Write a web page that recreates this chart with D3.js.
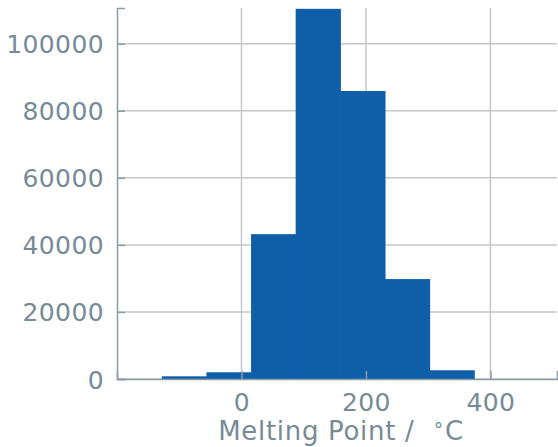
<!DOCTYPE html>
<html>
<head>
<meta charset="utf-8">
<script src="https://cdn.jsdelivr.net/npm/d3@7"></script>
<style>
  body { margin: 0; background: #fff; }
  svg { font-family: "DejaVu Sans", sans-serif; }
</style>
</head>
<body>
<div id="chart"></div>
<script>
// histogram bins (left edges) and counts
var binEdges = [-128, -56.3, 15.4, 87.1, 158.8, 230.5, 302.2, 373.9];
var counts   = [800, 2000, 43200, 110400, 85900, 29800, 2600];
var xTicks = [0, 200, 400];
var yTicks = [0, 20000, 40000, 60000, 80000, 100000];

var textColor = "#778b97",
    spineColor = "#8a9ca7",
    gridColor = "#c6c6c6",
    barColor = "#0e5ea8";

var margin = {top: 8, right: 1, bottom: 68, left: 117},
    width = 558 - margin.left - margin.right,
    height = 447 - margin.top - margin.bottom;

var svg = d3.select("#chart")
  .append("svg")
    .attr("width", 558)
    .attr("height", 447)
  .append("g")
    .attr("transform", "translate(" + margin.left + "," + margin.top + ")");

var x = d3.scaleLinear()
  .domain([-200, 507])
  .range([0, width]);

var y = d3.scaleLinear()
  .domain([0, 110650])
  .range([height, 0]);

// grid
svg.append("g").selectAll("line.vg")
  .data(xTicks).enter().append("line")
    .attr("x1", function(d){ return x(d) }).attr("x2", function(d){ return x(d) })
    .attr("y1", 0).attr("y2", height)
    .style("stroke", gridColor).style("stroke-width", 1.5);

svg.append("g").selectAll("line.hg")
  .data(yTicks).enter().append("line")
    .attr("x1", 0).attr("x2", width)
    .attr("y1", function(d){ return y(d) }).attr("y2", function(d){ return y(d) })
    .style("stroke", gridColor).style("stroke-width", 1.5);

// bars (small overlap so no seams show)
svg.append("g").selectAll("rect")
  .data(counts).enter().append("rect")
    .attr("x", function(d, i){ return x(binEdges[i]) })
    .attr("width", function(d, i){ return x(binEdges[i + 1]) - x(binEdges[i]) + 0.6 })
    .attr("y", function(d){ return y(d) })
    .attr("height", function(d){ return height - y(d) })
    .style("fill", barColor);

// axes
var xAxis = svg.append("g")
  .attr("transform", "translate(0," + height + ")")
  .call(d3.axisBottom(x).tickValues(xTicks).tickSize(-8).tickPadding(14));

var yAxis = svg.append("g")
  .call(d3.axisLeft(y).tickValues(yTicks).tickFormat(d3.format("d")).tickSize(-8).tickPadding(13));

[xAxis, yAxis].forEach(function(a){
  a.select(".domain").style("stroke", spineColor).style("stroke-width", 1.5);
  a.selectAll(".tick line").style("stroke", spineColor).style("stroke-width", 1.5);
  a.selectAll(".tick text")
    .style("fill", textColor)
    .style("font-size", "25px")
    .style("letter-spacing", "0.4px")
    .style("font-family", "DejaVu Sans");
});
yAxis.selectAll(".tick text").attr("dy", "0.36em");

svg.append("text")
  .attr("x", x(0) + (x(400) - x(0)) * 0.4)
  .attr("y", height + 61)
  .attr("text-anchor", "middle")
  .style("fill", textColor)
  .style("font-size", "26px")
  .style("letter-spacing", "0.7px")
  .style("white-space", "pre")
  .html("Melting Point /  <tspan dy='-9' font-size='19px'>∘</tspan><tspan dy='9'>C</tspan>");
</script>
</body>
</html>
